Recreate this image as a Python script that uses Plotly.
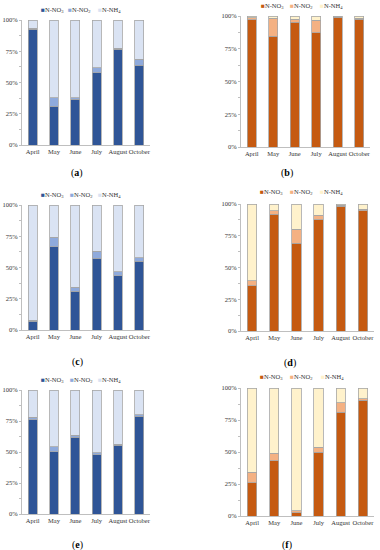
import plotly.graph_objects as go

months = ["April", "May", "June", "July", "August", "October"]

# percentages (N-NO3, N-NO2); N-NH4 is the remainder
a_no3 = [92.5, 31.2, 36.8, 57.9, 76.5, 63.7]
a_no2 = [0.8, 6.8, 1.2, 4.0, 0.8, 4.8]
b_no3 = [97.0, 84.7, 95.4, 87.2, 99.0, 97.7]
b_no2 = [1.7, 13.5, 2.3, 9.7, 0.5, 0.5]
c_no3 = [7.2, 66.7, 31.2, 57.3, 43.5, 55.2]
c_no2 = [0.8, 7.4, 2.9, 5.6, 3.2, 2.7]
d_no3 = [35.7, 92.1, 69.0, 87.7, 98.2, 94.8]
d_no2 = [3.9, 2.4, 11.0, 3.6, 0.8, 1.2]
e_no3 = [75.9, 50.4, 61.7, 47.7, 55.5, 79.0]
e_no2 = [2.1, 3.8, 1.8, 1.9, 0.8, 0.9]
f_no3 = [26.1, 43.1, 2.6, 49.9, 80.9, 90.3]
f_no2 = [8.1, 6.0, 1.6, 3.9, 7.6, 1.3]

series_names = ["N-NO<sub>3</sub>", "N-NO<sub>2</sub>", "N-NH<sub>4</sub>"]
blues = ["#2F5597", "#8FAADC", "#DAE3F3"]
oranges = ["#C55A11", "#F4B183", "#FFF2CC"]
panel_labels = ["a", "b", "c", "d", "e", "f"]

panels = [
    (a_no3, a_no2, blues),
    (b_no3, b_no2, oranges),
    (c_no3, c_no2, blues),
    (d_no3, d_no2, oranges),
    (e_no3, e_no2, blues),
    (f_no3, f_no2, oranges),
]

W, H = 380, 550
# plot-area pixel boxes (x0, x1, ytop, ybottom)
boxes = [
    (22, 150, 20, 145),
    (241, 370, 16, 147),
    (22, 150, 205, 330),
    (241, 374, 204, 331),
    (22, 150, 390, 514),
    (241, 374, 388, 516),
]
legend_pos = [
    ([39, 65.5, 95.5], 10.3),
    ([259, 288, 318], 6),
    ([39, 67.7, 95.7], 195),
    ([257.7, 287.7, 318], 191.7),
    ([39, 68, 96], 379.7),
    ([258, 288, 319], 377),
]
label_pos = [(77, 173), (287, 173), (77, 362), (290, 363), (77, 545), (287, 545)]

FONT = "Liberation Serif"
fig = go.Figure()
for i, (no3, no2, cols) in enumerate(panels):
    nh4 = [round(100 - p - q, 2) for p, q in zip(no3, no2)]
    ax = "" if i == 0 else str(i + 1)
    for name, vals, col in zip(series_names, [no3, no2, nh4], cols):
        fig.add_trace(go.Bar(
            x=months, y=vals, name=name, marker_color=col,
            marker_line=dict(color="#A6A6A6", width=0.8),
            width=0.42, xaxis="x" + ax, yaxis="y" + ax, showlegend=False,
        ))
    x0, x1, yt, yb = boxes[i]
    fig.layout["xaxis" + ax] = dict(
        domain=[x0 / W, x1 / W], anchor="y" + ax,
        showline=True, linecolor="#BFBFBF", linewidth=1, ticks="",
        tickfont=dict(family=FONT, size=6.5, color="#333"), tickangle=0,
        showgrid=False, fixedrange=True, automargin=False,
    )
    fig.layout["yaxis" + ax] = dict(
        domain=[1 - yb / H, 1 - yt / H], anchor="x" + ax, range=[0, 100],
        tickvals=[0, 25, 50, 75, 100], ticktext=["0%", "25%", "50%", "75%", "100%"],
        showline=True, linecolor="#BFBFBF", linewidth=1,
        ticks="outside", ticklen=2, tickcolor="#BFBFBF",
        minor=dict(tickvals=[12.5, 37.5, 62.5, 87.5], ticks="outside", ticklen=2, tickcolor="#BFBFBF"),
        tickfont=dict(family=FONT, size=6.5, color="#333"),
        showgrid=False, zeroline=False, fixedrange=True, automargin=False,
    )
    xs, ly = legend_pos[i]
    for xi, name, col in zip(xs, series_names, cols):
        fig.add_annotation(
            x=xi / W, y=1 - ly / H, xref="paper", yref="paper",
            xanchor="left", yanchor="middle", showarrow=False,
            text=f'<span style="color:{col}">■</span>{name}',
            font=dict(family=FONT, size=6.5, color="#333"),
        )
    lx, lyy = label_pos[i]
    fig.add_annotation(
        x=lx / W, y=1 - lyy / H, xref="paper", yref="paper",
        xanchor="center", yanchor="middle", showarrow=False,
        text=f"(<b>{panel_labels[i]}</b>)",
        font=dict(family=FONT, size=10, color="#000"),
    )

fig.update_layout(
    barmode="stack", width=W, height=H,
    margin=dict(l=0, r=0, t=0, b=0),
    paper_bgcolor="white", plot_bgcolor="white",
    showlegend=False,
)
fig.write_html(
    "out.html",
    config={"displayModeBar": False},
    post_script="document.body.style.margin='0';document.body.style.overflow='hidden';",
)
